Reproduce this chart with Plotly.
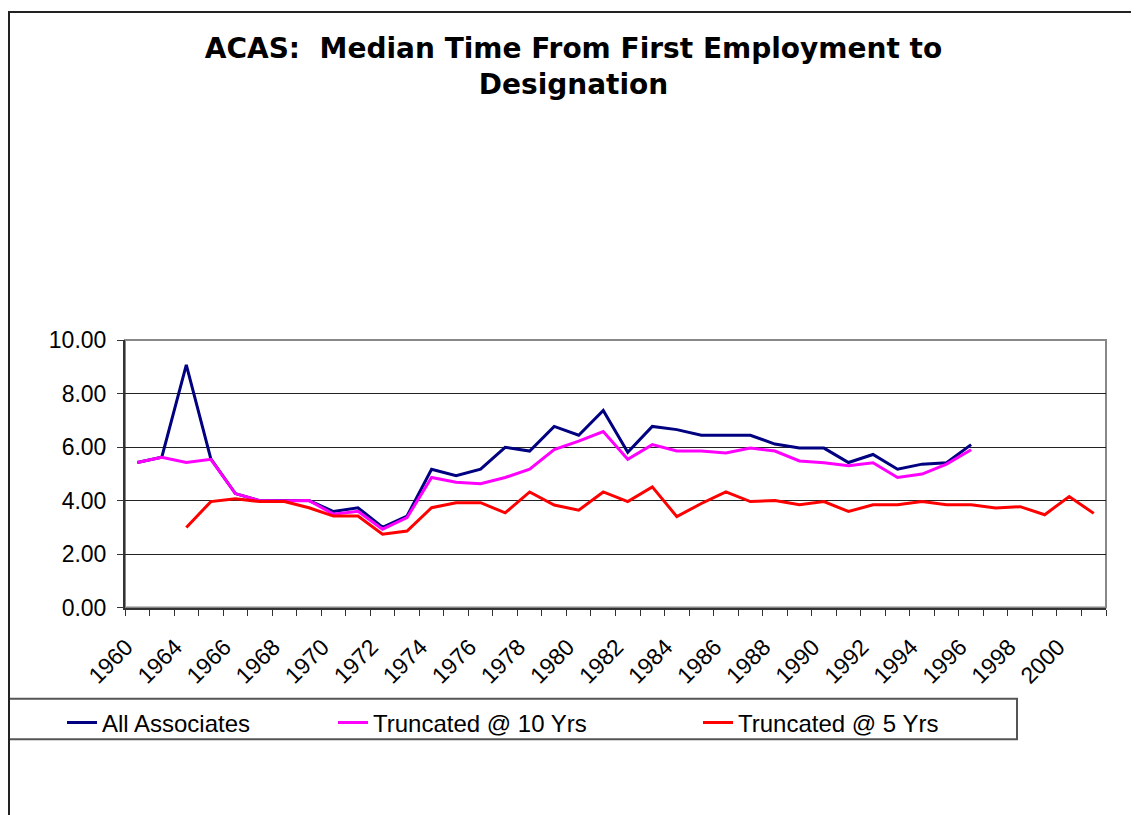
import plotly.graph_objects as go

# Categorie (anni) e serie
years = ["1960", "1963", "1964", "1965", "1966", "1967", "1968", "1969", "1970", "1971",
         "1972", "1973", "1974", "1975", "1976", "1977", "1978", "1979", "1980", "1981",
         "1982", "1983", "1984", "1985", "1986", "1987", "1988", "1989", "1990", "1991",
         "1992", "1993", "1994", "1995", "1996", "1997", "1998", "1999", "2000", "2001"]

all_associates = [5.42, 5.62, 9.07, 5.56, 4.26, 3.99, 4.00, 4.00, 3.59, 3.73,
                  3.00, 3.42, 5.17, 4.93, 5.17, 5.99, 5.85, 6.77, 6.44, 7.37,
                  5.80, 6.77, 6.65, 6.44, 6.44, 6.44, 6.11, 5.96, 5.96, 5.42,
                  5.72, 5.17, 5.36, 5.41, 6.09, None, None, None, None, None]

truncated_10 = [5.42, 5.62, 5.42, 5.54, 4.26, 3.99, 3.99, 4.00, 3.49, 3.60,
                2.93, 3.36, 4.86, 4.68, 4.63, 4.86, 5.17, 5.90, 6.22, 6.58,
                5.54, 6.09, 5.85, 5.85, 5.78, 5.96, 5.85, 5.48, 5.41, 5.30,
                5.41, 4.86, 4.99, 5.36, 5.90, None, None, None, None, None]

truncated_5 = [None, None, 2.99, 3.96, 4.07, 3.96, 3.96, 3.73, 3.42, 3.42,
               2.74, 2.86, 3.73, 3.92, 3.92, 3.54, 4.32, 3.83, 3.64, 4.32,
               3.96, 4.51, 3.40, 3.89, 4.32, 3.96, 4.00, 3.84, 3.96, 3.59,
               3.84, 3.84, 3.96, 3.84, 3.84, 3.72, 3.77, 3.47, 4.15, 3.52]

y_ticks = [0, 2, 4, 6, 8, 10]

FONT = "Liberation Sans, Arial, sans-serif"
W, H = 1131, 807          # la pagina aggiunge 8px di margine
L, R, T, B = 117, 33, 332, 205
PW, PH = W - L - R, H - T - B

def px_x(x):
    return (x - L) / PW

def px_y(y):
    return (H - B - y) / PH

series = [
    ("All Associates", all_associates, "#000080", "legend"),
    ("Truncated @ 10 Yrs", truncated_10, "#FF00FF", "legend2"),
    ("Truncated @ 5 Yrs", truncated_5, "#FF0000", "legend3"),
]

fig = go.Figure()
for name, values, color, leg in series:
    fig.add_trace(go.Scatter(
        x=years,
        y=values,
        mode="lines",
        name=name,
        line=dict(color=color, width=3),
        legend=leg,
    ))

tick_text = [y if i % 2 == 0 else "" for i, y in enumerate(years)]

legend_style = dict(
    orientation="h",
    xref="container", yref="container",
    xanchor="left", yanchor="middle",
    y=1 - 715 / H,
    bgcolor="rgba(0,0,0,0)",
    font=dict(family=FONT, size=24, color="#000"),
)

fig.update_layout(
    width=W,
    height=H,
    margin=dict(l=L, r=R, t=T, b=B),
    paper_bgcolor="white",
    plot_bgcolor="white",
    font=dict(family=FONT, color="#000"),
    title=dict(
        text="ACAS:  Median Time From First Employment to<br>Designation",
        font=dict(family="DejaVu Sans, sans-serif", size=28, color="#000", weight="bold"),
        x=0.5, xref="container", xanchor="center",
        y=1 - 50 / H, yref="container", yanchor="top",
    ),
    showlegend=True,
    legend=dict(x=54 / W, **legend_style),
    legend2=dict(x=325 / W, **legend_style),
    legend3=dict(x=690 / W, **legend_style),
    xaxis=dict(
        type="category",
        tickmode="array",
        tickvals=years,
        ticktext=tick_text,
        tickson="boundaries",
        ticks="outside",
        ticklen=6,
        tickcolor="#333",
        tickangle=-45,
        ticklabelstandoff=15,
        ticklabelshift=-11,
        tickfont=dict(family=FONT, size=23, color="#000"),
        showline=True,
        linecolor="#333",
        linewidth=2,
        showgrid=False,
        range=[-0.5, 39.5],
    ),
    yaxis=dict(
        range=[0, 10],
        tickvals=y_ticks,
        tickformat=".2f",
        ticks="outside",
        ticklen=6,
        tickcolor="#333",
        ticklabelstandoff=6,
        tickfont=dict(family=FONT, size=23, color="#000"),
        showline=True,
        linecolor="#333",
        linewidth=2,
        showgrid=True,
        gridcolor="#222",
        gridwidth=1,
        zeroline=False,
    ),
    shapes=[
        # bordo grigio dell'area del grafico
        dict(type="rect", xref="paper", yref="paper", x0=0, x1=1, y0=0, y1=1,
             line=dict(color="#888", width=2), layer="below"),
        # riquadro della legenda
        dict(type="rect", xref="paper", yref="paper",
             x0=px_x(1), x1=px_x(1009), y0=px_y(735), y1=px_y(694),
             line=dict(color="#555", width=2)),
        # bordo esterno del grafico
        dict(type="rect", xref="paper", yref="paper",
             x0=px_x(1), x1=px_x(1129), y0=px_y(H + 10), y1=px_y(1),
             line=dict(color="#222", width=2)),
    ],
)

fig.write_html("out.html")
